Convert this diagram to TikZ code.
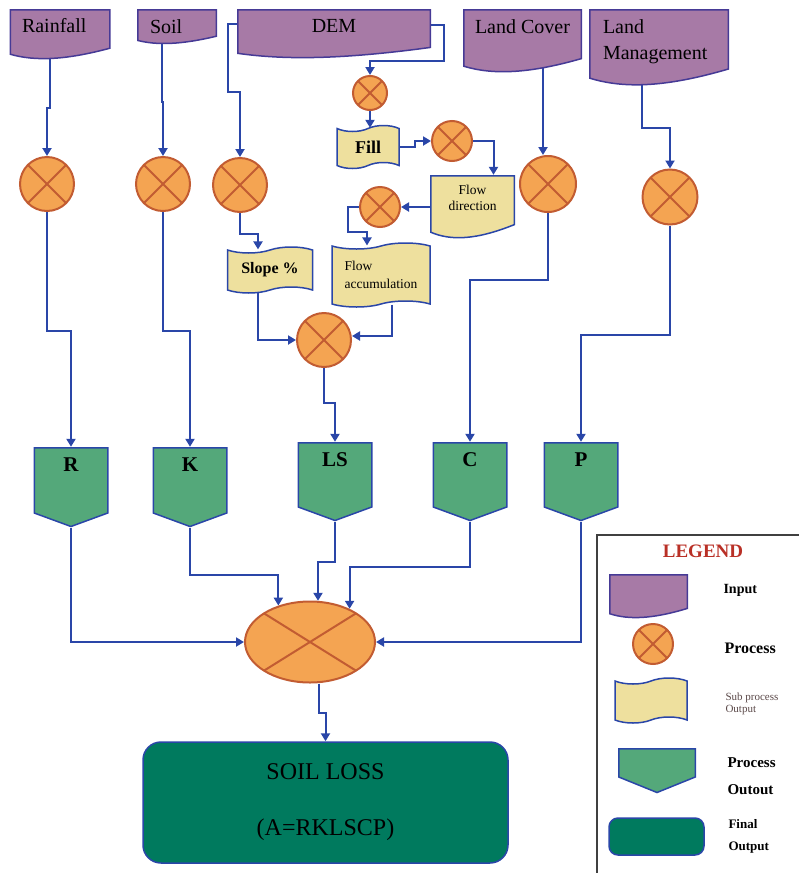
\documentclass[tikz,border=0pt]{standalone}
\usepackage{fontspec}
\setmainfont{Liberation Serif}
\usetikzlibrary{shapes.symbols,shapes.geometric,arrows.meta,backgrounds,calc}

\definecolor{inpfill}{RGB}{167,122,166}
\definecolor{inpline}{RGB}{70,58,150}
\definecolor{procfill}{RGB}{244,164,82}
\definecolor{procline}{RGB}{194,92,50}
\definecolor{subfill}{RGB}{238,224,158}
\definecolor{outfill}{RGB}{84,168,122}
\definecolor{finfill}{RGB}{0,122,94}
\definecolor{edgeblue}{RGB}{42,70,168}
\definecolor{legred}{RGB}{185,48,38}
\definecolor{leggray}{RGB}{90,72,72}

% flat top, wavy bottom
\newcommand\docoutline[2]{%
\path[fill=#1, draw=#2, line width=1.5pt]
  let \p1=(path picture bounding box.south west), \p2=(path picture bounding box.north east),
      \n1={\x2-\x1}, \n2={\y2-\y1} in
  (\x1+0.75pt,\y2-0.75pt) -- (\x2-0.75pt,\y2-0.75pt) -- (\x2-0.75pt,\y1+0.75pt+0.2*\n2)
  .. controls (\x1+0.55*\n1,\y1+0.75pt-0.04*\n2) and (\x1+0.25*\n1,\y1+0.75pt-0.06*\n2) .. (\x1+0.75pt,\y1+0.75pt+0.08*\n2) -- cycle;}
% box with a point at the bottom
\newcommand\pentoutline[1]{%
\path[fill=outfill, draw=edgeblue, line width=1.5pt]
  let \p1=(path picture bounding box.south west), \p2=(path picture bounding box.north east) in
  (\x1+0.75pt,\y2-0.75pt) -- (\x2-0.75pt,\y2-0.75pt) -- (\x2-0.75pt,\y1+#1) -- ({(\x1+\x2)/2},\y1+1.5pt) -- (\x1+0.75pt,\y1+#1) -- cycle;}

\tikzset{
  inbox/.style={rectangle, inner sep=0pt, font=\fontsize{20}{26}\selectfont, text height=14pt, path picture={\docoutline{inpfill}{inpline}}},
  proc/.style={circle, draw=procline, fill=procfill, line width=2pt, minimum size=#1, inner sep=0pt,
    path picture={\draw[procline, line width=2pt] (path picture bounding box.north west) -- (path picture bounding box.south east) (path picture bounding box.north east) -- (path picture bounding box.south west);}},
  proc/.default=54pt,
  subout/.style={tape, tape bend height=6pt, draw=edgeblue, fill=subfill, line width=1.5pt, inner sep=0pt},
  subdoc/.style={rectangle, inner sep=0pt, path picture={\docoutline{subfill}{edgeblue}}},
  procout/.style={rectangle, inner sep=0pt, minimum width=75pt, font=\fontsize{21}{25}\selectfont\bfseries, text height=15pt, text depth=47pt, path picture={\pentoutline{#1}}},
  procout/.default=15pt,
  finalout/.style={rectangle, rounded corners=18pt, draw=edgeblue, fill=finfill, line width=1.5pt},
  flow/.style={draw=edgeblue, line width=2pt, -{Triangle[length=8pt,width=9pt]}},
  legtext/.style={anchor=west, align=left, font=\fontsize{15}{27}\selectfont\bfseries}
}

\begin{document}
\begin{tikzpicture}[x=1pt, y=-1pt]
\useasboundingbox (0,0) rectangle (799,873);

  % Define nodes
\node[inbox, minimum width=101pt, minimum height=50pt, text depth=18pt, text width=76pt, align=left] (rain) at (60,34) {Rainfall};
\node[inbox, minimum width=80pt, minimum height=35pt, text depth=1pt, text width=54pt, align=left] (soil) at (177,26.5) {Soil};
\node[inbox, minimum width=194pt, minimum height=49pt, text depth=17pt] (dem) at (334,33.5) {DEM};
\node[inbox, minimum width=119pt, minimum height=63pt, text depth=29pt] (cover) at (522.5,40.5) {Land Cover};
\node[inbox, minimum width=140pt, minimum height=76pt, text depth=42pt, text width=112pt, align=left] (manage) at (659,47) {Land\\Management};

\node[proc] (prain) at (47,184) {};
\node[proc] (psoil) at (163,184) {};
\node[proc] (pslope) at (240,185) {};
\node[proc=34pt] (pfill) at (370,93) {};
\node[proc=40pt] (pflowdir) at (452,141) {};
\node[proc=40pt] (pflowacc) at (380,207) {};
\node[proc=56pt] (pcover) at (548,184) {};
\node[proc=55pt] (pman) at (670,197) {};
\node[proc] (pls) at (324,340) {};
\node[proc, ellipse, minimum width=130pt, minimum height=81pt] (big) at (310,642) {};

\node[subout, minimum width=62pt, minimum height=43pt, font=\fontsize{18}{22}\selectfont\bfseries] (fill) at (368,147) {Fill};
\node[subdoc, minimum width=85pt, minimum height=63pt, font=\fontsize{13.5}{16}\selectfont, align=center, text height=26pt, text depth=19pt] (flowdir) at (472.5,206.5) {Flow\\direction};
\node[subout, minimum width=98pt, minimum height=64pt, font=\fontsize{13.5}{18}\selectfont, align=left] (flowacc) at (381,275) {Flow\\accumulation};
\node[subout, minimum width=85pt, minimum height=46pt, font=\fontsize{16}{20}\selectfont\bfseries] (slope) at (270,270) {Slope \%};

\node[procout, minimum height=81pt] (r) at (71,487.5) {R};
\node[procout, minimum height=81pt] (k) at (190,487.5) {K};
\node[procout, minimum height=80pt] (ls) at (335,482) {LS};
\node[procout, minimum height=80pt] (c) at (470,482) {C};
\node[procout, minimum height=80pt] (p) at (581,482) {P};

\node[finalout, minimum width=365pt, minimum height=121pt, font=\fontsize{24}{30}\selectfont, align=center] (final) at (325.5,802.5) {SOIL LOSS\\[26pt](A=RKLSCP)};

  % Legend
\draw[line width=1.5pt, black!75] (597,880) |- (810,535);
\node[font=\fontsize{19}{22}\selectfont\bfseries, text=legred] (legtitle) at (703,551) {LEGEND};
\node[inbox, minimum width=79pt, minimum height=44pt] (leginp) at (648.5,596) {};
\node[legtext, font=\fontsize{14}{16}\selectfont\bfseries] (tinp) at (720,590) {Input};
\node[proc=40pt] (legproc) at (653,644) {};
\node[legtext, font=\fontsize{16}{18}\selectfont\bfseries] (tproc) at (721,648) {Process};
\node[subout, minimum width=72pt, minimum height=45pt] (legsub) at (651,700.5) {};
\node[legtext, font=\fontsize{11}{12}\selectfont, text=leggray] (tsub) at (722,704) {Sub process\\Output};
\node[procout=17pt, minimum width=78pt, minimum height=46pt, text depth=0pt] (legout) at (657,771) {};
\node[legtext] (tout) at (724,776) {Process\\Outout};
\node[finalout, rounded corners=9pt, minimum width=95pt, minimum height=37pt] (legfin) at (656.5,836.5) {};
\node[legtext, font=\fontsize{13}{22}\selectfont\bfseries] (tfin) at (725,836) {Final\\Output};

  % Connect the nodes
\begin{scope}[on background layer]
\draw[flow] ([xshift=-10pt]rain.center) -- ++(0,74) -| (prain);
\draw[flow] ([xshift=-15pt]soil.center) -- ++(0,75.5) -| (psoil);
\draw[flow] ([yshift=10pt]dem.west) -| ++(-9,68) -| (pslope);
\draw[flow] ([yshift=9pt]dem.east) -| ++(13,36) -| (pfill);
\draw[flow] (pfill) -- (fill.north -| pfill);
\draw[flow] (fill.east) -- ++(15,0) |- (pflowdir);
\draw[flow] (pflowdir.east) -| ([xshift=21pt]flowdir.north);
\draw[flow] (flowdir.west |- pflowacc.east) -- (pflowacc.east);
\draw[flow] (pflowacc.west) -| ++(-11,25) -| ([xshift=-14pt]flowacc.north);
\draw[flow] (pslope.south) -- ++(0,21) -| ([xshift=-12pt]slope.north);
\draw[flow] ([xshift=-12pt]slope.south) |- (pls);
\draw[flow] ([xshift=11pt]flowacc.south) |- ([yshift=4pt]pls.east);
\draw[flow] (pls.south) -- ++(0,35) -| (ls);
\draw[flow] ([xshift=-5pt]pcover.north |- cover.center) -- ([xshift=-5pt]pcover.north);
\draw[flow] ([xshift=-17pt]manage.center) -- ++(0,81) -| (pman);
\draw[flow] (prain.south) -- ++(0,119) -| (r);
\draw[flow] (psoil.south) -- ++(0,119) -| (k);
\draw[flow] (pcover.south) -- ++(0,67) -| (c);
\draw[flow] (pman.south) -- ++(0,109) -| (p);
\draw[flow] (r.south) |- (big);
\draw[flow] (k.south) -- ++(0,47) -| (big.131);
\draw[flow] (ls.south) -- ++(0,40) -| (big.79);
\draw[flow] (c.south) -- ++(0,45) -| (big.40);
\draw[flow] (p.south) |- (big);
\draw[flow] ([xshift=9pt]big.south) -- ++(0,29) -| (final);
\end{scope}

\end{tikzpicture}
\end{document}
